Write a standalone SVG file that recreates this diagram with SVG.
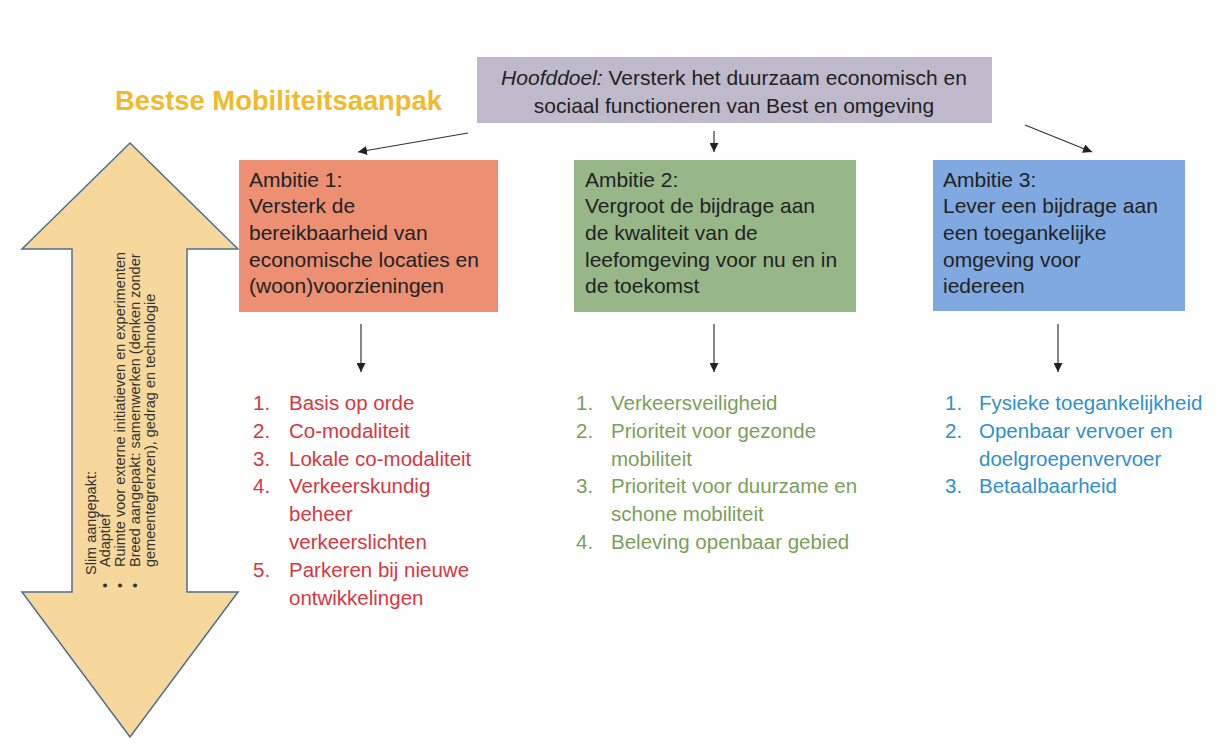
<svg xmlns="http://www.w3.org/2000/svg" width="1229" height="755" viewBox="0 0 1229 755">
<defs>
<marker id="ah" viewBox="0 0 10 10" refX="10" refY="5" markerWidth="9" markerHeight="9" markerUnits="userSpaceOnUse" orient="auto">
<path d="M0,0 L10,5 L0,10 z" fill="#222"/>
</marker>
</defs>
<style>
.t{font-family:"Liberation Sans",Arial,sans-serif;}
.box{font-size:21px;fill:#222;}
.c{stroke:#333;stroke-width:1.2;fill:none;marker-end:url(#ah);}
.l1{fill:#d9363e;font-size:20.5px;}
.l2{fill:#7aa05a;font-size:20.5px;}
.l3{fill:#2f8fd3;font-size:20.5px;}
.side{font-size:14.5px;fill:#333;}
</style>
<rect width="1229" height="755" fill="#ffffff"/>
<g id="title">
<text class="t" x="115" y="110" font-size="27" font-weight="bold" fill="#f2b92a" textLength="327" lengthAdjust="spacingAndGlyphs">Bestse Mobiliteitsaanpak</text>
</g>
<g id="hoofddoel">
<rect x="477" y="57" width="515" height="66" fill="#bfbacb"/>
<text class="t box" text-anchor="middle"><tspan x="734" y="85"><tspan font-style="italic">Hoofddoel:</tspan> Versterk het duurzaam economisch en</tspan><tspan x="734" y="113">sociaal functioneren van Best en omgeving</tspan></text>
</g>
<g id="side-arrow">
<path d="M130,143 L238,249 L187,249 L187,592 L238,592 L130,737 L22,592 L72,592 L72,249 L22,249 Z" fill="#f6d79c" stroke="#4f6f8f" stroke-width="1.5"/>
<g class="t side" transform="rotate(-90)">
<text x="-575" y="96">Slim aangepakt:</text>
<text x="-588" y="110">•</text><text x="-567" y="110">Adaptief</text>
<text x="-588" y="125">•</text><text x="-567" y="125">Ruimte voor externe initiatieven en experimenten</text>
<text x="-588" y="140">•</text><text x="-567" y="140">Breed aangepakt: samenwerken (denken zonder</text>
<text x="-567" y="155">gemeentegrenzen), gedrag en technologie</text>
</g>
</g>
<g id="ambitie1">
<rect x="239" y="160" width="259" height="152" fill="#ec8f73"/>
<text class="t box"><tspan x="249" y="187">Ambitie 1:</tspan><tspan x="249" y="213">Versterk de</tspan><tspan x="249" y="240">bereikbaarheid van</tspan><tspan x="249" y="267">economische locaties en</tspan><tspan x="249" y="293">(woon)voorzieningen</tspan></text>
</g>
<g id="ambitie2">
<rect x="574" y="160" width="282" height="152" fill="#98b788"/>
<text class="t box"><tspan x="585" y="187">Ambitie 2:</tspan><tspan x="585" y="213">Vergroot de bijdrage aan</tspan><tspan x="585" y="240">de kwaliteit van de</tspan><tspan x="585" y="267">leefomgeving voor nu en in</tspan><tspan x="585" y="293">de toekomst</tspan></text>
</g>
<g id="ambitie3">
<rect x="933" y="160" width="252" height="151" fill="#7fa9e0"/>
<text class="t box"><tspan x="943" y="187">Ambitie 3:</tspan><tspan x="943" y="213">Lever een bijdrage aan</tspan><tspan x="943" y="240">een toegankelijke</tspan><tspan x="943" y="267">omgeving voor</tspan><tspan x="943" y="293">iedereen</tspan></text>
</g>
<g id="list1" class="t l1">
<text x="253" y="410">1.</text><text x="289" y="410">Basis op orde</text>
<text x="253" y="438">2.</text><text x="289" y="438">Co-modaliteit</text>
<text x="253" y="466">3.</text><text x="289" y="466">Lokale co-modaliteit</text>
<text x="253" y="493">4.</text><text x="289" y="493">Verkeerskundig</text>
<text x="289" y="521">beheer</text>
<text x="289" y="549">verkeerslichten</text>
<text x="253" y="577">5.</text><text x="289" y="577">Parkeren bij nieuwe</text>
<text x="289" y="605">ontwikkelingen</text>
</g>
<g id="list2" class="t l2">
<text x="576" y="410">1.</text><text x="611" y="410">Verkeersveiligheid</text>
<text x="576" y="438">2.</text><text x="611" y="438">Prioriteit voor gezonde</text>
<text x="611" y="466">mobiliteit</text>
<text x="576" y="493">3.</text><text x="611" y="493">Prioriteit voor duurzame en</text>
<text x="611" y="521">schone mobiliteit</text>
<text x="576" y="549">4.</text><text x="611" y="549">Beleving openbaar gebied</text>
</g>
<g id="list3" class="t l3">
<text x="945" y="410">1.</text><text x="979" y="410">Fysieke toegankelijkheid</text>
<text x="945" y="438">2.</text><text x="979" y="438">Openbaar vervoer en</text>
<text x="979" y="466">doelgroepenvervoer</text>
<text x="945" y="493">3.</text><text x="979" y="493">Betaalbaarheid</text>
</g>
<g id="connectors">
<line class="c" x1="468" y1="133" x2="358" y2="152"/>
<line class="c" x1="714" y1="131" x2="714" y2="152"/>
<line class="c" x1="1025" y1="125" x2="1092" y2="152"/>
<line class="c" x1="361" y1="324" x2="361" y2="372"/>
<line class="c" x1="714" y1="324" x2="714" y2="372"/>
<line class="c" x1="1058" y1="324" x2="1058" y2="372"/>
</g>
</svg>
